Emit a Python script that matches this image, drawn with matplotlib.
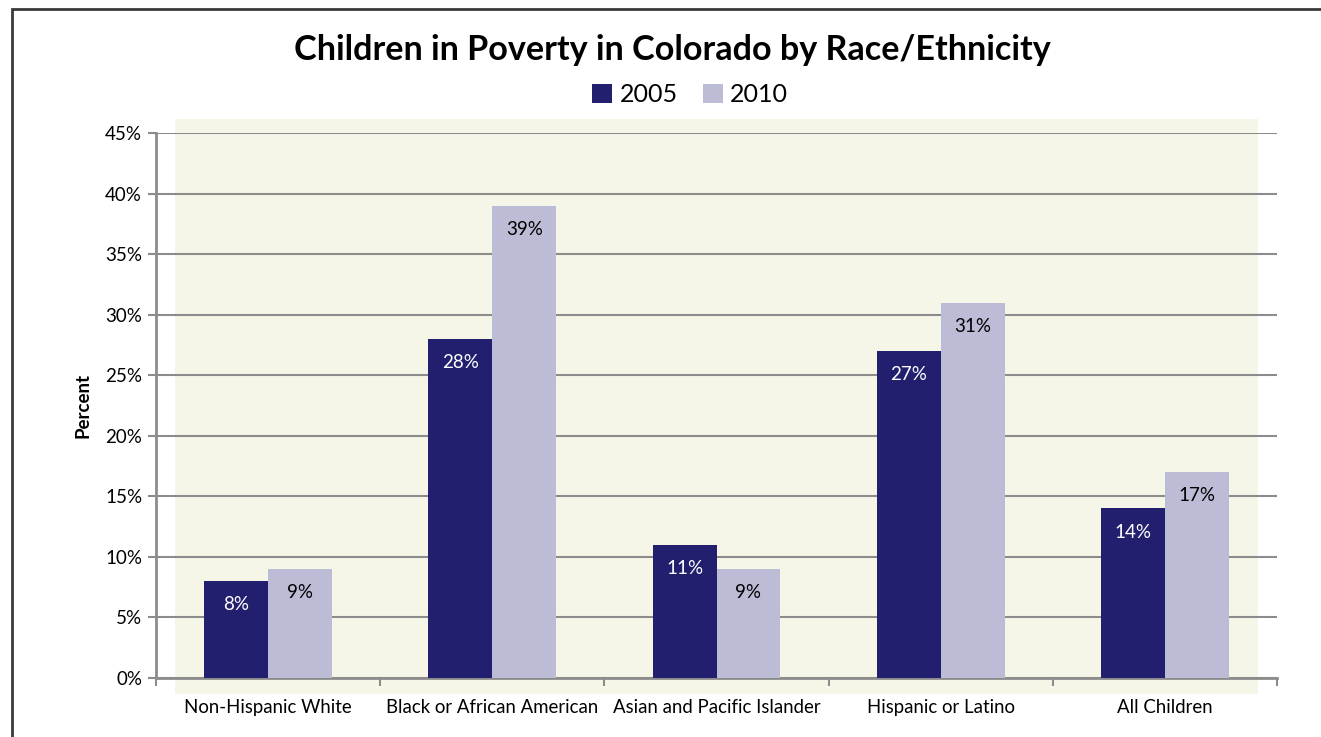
import matplotlib
matplotlib.use('Agg')
import matplotlib.pyplot as plt
from matplotlib.patches import Rectangle
import numpy as np

plt.rcParams['font.family'] = ['Lato', 'DejaVu Sans']

categories = ['Non-Hispanic White', 'Black or African American',
              'Asian and Pacific Islander', 'Hispanic or Latino', 'All Children']
pct_2005 = [8, 28, 11, 27, 14]
pct_2010 = [9, 39, 9, 31, 17]
yticks = [0, 5, 10, 15, 20, 25, 30, 35, 40, 45]

dark = '#231F6F'
light = '#BCBCD6'
grey = '#8C8C8C'

fig = plt.figure(figsize=(13.21, 7.37), dpi=100)

# outer chart frame
fig.patches.append(Rectangle((12 / 1321, -0.05), 1.1, 1 - 9 / 737 + 0.05,
                             transform=fig.transFigure, fill=False,
                             edgecolor='#3A3A3A', linewidth=2, zorder=0))
# plot-area fill
fig.patches.append(Rectangle((175 / 1321, 1 - 694 / 737), (1258 - 175) / 1321,
                             (694 - 119) / 737, transform=fig.transFigure,
                             facecolor='#F6F6E8', edgecolor='none', zorder=0))

ax = fig.add_axes([156 / 1321, 1 - 678 / 737, (1277 - 156) / 1321, (678 - 133) / 737])
ax.set_facecolor('none')
ax.set_zorder(2)

x = np.arange(len(categories))
w = 0.285
b1 = ax.bar(x - w / 2, pct_2005, w, color=dark, label='2005', zorder=3)
b2 = ax.bar(x + w / 2, pct_2010, w, color=light, label='2010', zorder=3)

for bars, vals, col in [(b1, pct_2005, 'white'), (b2, pct_2010, 'black')]:
    for rect, v in zip(bars, vals):
        ax.annotate(f'{v}%', (rect.get_x() + rect.get_width() / 2, v),
                    xytext=(0, -17), textcoords='offset points',
                    ha='center', va='center', color=col, fontsize=13.5, zorder=4)

ax.set_xlim(-0.5, len(categories) - 0.5)
ax.set_ylim(0, 45)
ax.set_yticks(yticks)
ax.set_yticklabels([f'{t}%' for t in yticks])
ax.yaxis.grid(True, color=grey, linewidth=1.5, zorder=1)
ax.set_axisbelow(True)

ax.set_xticks(x)
ax.set_xticklabels(categories)
ax.set_xticks(np.arange(len(categories) + 1) - 0.5, minor=True)
ax.tick_params(axis='x', which='major', length=0, labelsize=13.4, pad=15)
ax.tick_params(axis='x', which='minor', length=6, width=1.5, color=grey)
ax.tick_params(axis='y', length=6, width=1.5, color=grey, labelsize=13.5, pad=4)

for s in ['top', 'right']:
    ax.spines[s].set_visible(False)
for s in ['left', 'bottom']:
    ax.spines[s].set_color(grey)
    ax.spines[s].set_linewidth(2)

ax.set_ylabel('Percent', fontsize=13.5, fontweight='bold', labelpad=10)

fig.text(672 / 1321, 1 - 50 / 737, 'Children in Poverty in Colorado by Race/Ethnicity',
         ha='center', va='center', fontsize=24.6, fontweight='bold')
fig.legend(handles=[b1, b2], loc='center', bbox_to_anchor=(690 / 1321, 1 - 95 / 737),
           ncol=2, frameon=False, fontsize=18, handlelength=0.8, handleheight=0.8,
           handletextpad=0.3, columnspacing=1.0)

fig.savefig('out.png', dpi=100)
